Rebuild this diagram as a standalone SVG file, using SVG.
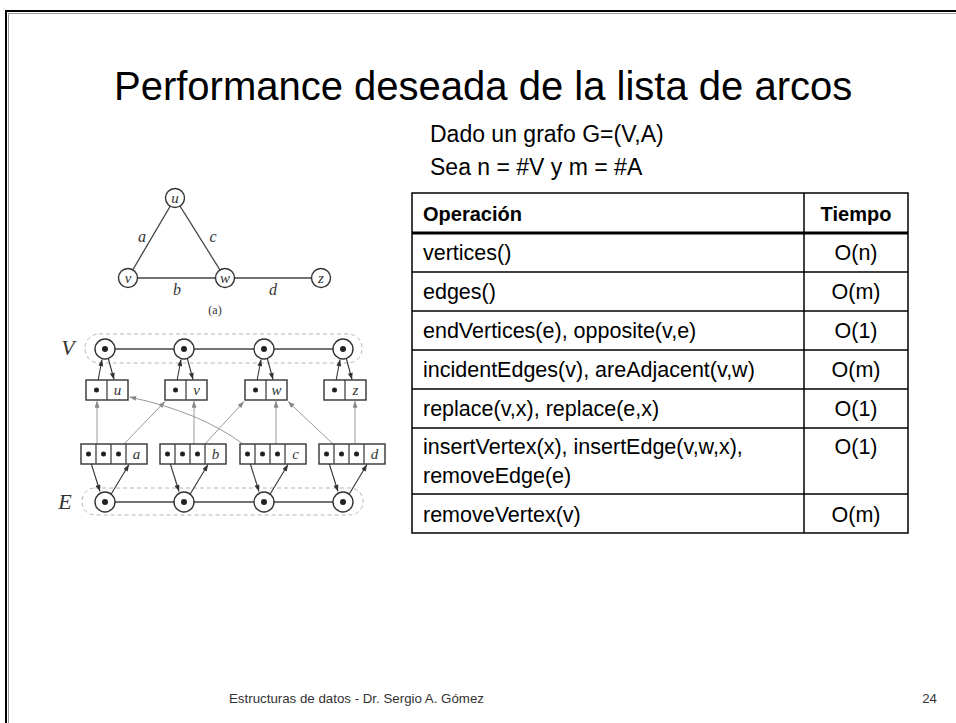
<svg xmlns="http://www.w3.org/2000/svg" width="956" height="723" viewBox="0 0 956 723">
<defs>
<style>
.sans{font-family:"Liberation Sans",Arial,sans-serif;fill:#000}
.it{font-family:"Liberation Serif","Times New Roman",serif;font-style:italic;fill:#333}
.rm{font-family:"Liberation Serif","Times New Roman",serif;fill:#333}
.tl{stroke:#000;stroke-width:1.5;fill:none}
.nd{fill:#fff;stroke:#333;stroke-width:1.4}
.dot{fill:#222}
.ln{stroke:#444;stroke-width:1.3;fill:none}
.ar{stroke:#333;stroke-width:1.1;fill:none;marker-end:url(#ah)}
.ag{stroke:#9a9a9a;stroke-width:1;fill:none;marker-end:url(#ahg)}
.dash{fill:none;stroke:#b5b5b5;stroke-width:1;stroke-dasharray:4 3}
</style>
<marker id="ah" viewBox="0 0 8 6" refX="8" refY="3" markerWidth="7" markerHeight="5" markerUnits="userSpaceOnUse" orient="auto"><path d="M0,0 L8,3 L0,6 z" fill="#333"/></marker>
<marker id="ahg" viewBox="0 0 8 6" refX="8" refY="3" markerWidth="7" markerHeight="5" markerUnits="userSpaceOnUse" orient="auto"><path d="M0,0 L8,3 L0,6 z" fill="#888"/></marker>
<clipPath id="figclip"><rect x="40" y="170" width="360" height="349"/></clipPath>
</defs>
<rect width="956" height="723" fill="#fff"/>
<path d="M6,723 V11 H956" fill="none" stroke="#000" stroke-width="2"/>
<path d="M8.5,723 V13.5 H956" fill="none" stroke="#999" stroke-width="1"/>

<text class="sans" x="114" y="100" font-size="40">Performance deseada de la lista de arcos</text>
<text class="sans" x="430" y="142" font-size="23">Dado un grafo G=(V,A)</text>
<text class="sans" x="430" y="175" font-size="23">Sea n = #V y m = #A</text>

<g id="table">
<rect class="tl" x="412" y="193" width="496" height="340"/>
<line class="tl" x1="804" y1="193" x2="804" y2="533"/>
<line x1="412" y1="233" x2="908" y2="233" stroke="#000" stroke-width="3"/>
<line class="tl" x1="412" y1="272" x2="908" y2="272"/>
<line class="tl" x1="412" y1="311" x2="908" y2="311"/>
<line class="tl" x1="412" y1="350" x2="908" y2="350"/>
<line class="tl" x1="412" y1="389" x2="908" y2="389"/>
<line class="tl" x1="412" y1="428" x2="908" y2="428"/>
<line class="tl" x1="412" y1="494" x2="908" y2="494"/>
<g class="sans" font-size="20" font-weight="bold">
<text x="423" y="221">Operación</text>
<text x="856" y="221" text-anchor="middle">Tiempo</text>
</g>
<g class="sans" font-size="21.5">
<text x="423" y="260">vertices()</text>
<text x="423" y="299">edges()</text>
<text x="423" y="338">endVertices(e), opposite(v,e)</text>
<text x="423" y="377">incidentEdges(v), areAdjacent(v,w)</text>
<text x="423" y="416">replace(v,x), replace(e,x)</text>
<text x="423" y="454">insertVertex(x), insertEdge(v,w,x),</text>
<text x="423" y="483">removeEdge(e)</text>
<text x="423" y="522">removeVertex(v)</text>
</g>
<g class="sans" font-size="21.5" text-anchor="middle">
<text x="856" y="260">O(n)</text>
<text x="856" y="299">O(m)</text>
<text x="856" y="338">O(1)</text>
<text x="856" y="377">O(m)</text>
<text x="856" y="416">O(1)</text>
<text x="856" y="454">O(1)</text>
<text x="856" y="522">O(m)</text>
</g>
</g>

<g id="graph-a">
<g id="a-edges">
<line class="ln" x1="175" y1="198" x2="128" y2="278"/>
<line class="ln" x1="175" y1="198" x2="225" y2="278"/>
<line class="ln" x1="128" y1="278" x2="225" y2="278"/>
<line class="ln" x1="225" y1="278" x2="321" y2="278"/>
</g>
<g id="node-u"><circle class="nd" cx="175" cy="198" r="9.5"/><text class="it" x="175" y="202.5" font-size="15" text-anchor="middle">u</text></g>
<g id="node-v"><circle class="nd" cx="128" cy="278" r="9.5"/><text class="it" x="128" y="282.5" font-size="15" text-anchor="middle">v</text></g>
<g id="node-w"><circle class="nd" cx="225" cy="278" r="9.5"/><text class="it" x="225" y="282.5" font-size="15" text-anchor="middle">w</text></g>
<g id="node-z"><circle class="nd" cx="321" cy="278" r="9.5"/><text class="it" x="321" y="282.5" font-size="15" text-anchor="middle">z</text></g>
<g class="it" font-size="16" text-anchor="middle">
<text x="142" y="242">a</text>
<text x="213" y="242">c</text>
<text x="177" y="295">b</text>
<text x="273" y="295">d</text>
</g>
<text class="rm" x="215" y="314" font-size="12" text-anchor="middle">(a)</text>
</g>

<g id="figure-b" clip-path="url(#figclip)">
<rect class="dash" x="85" y="334" width="277" height="29" rx="14"/>
<rect class="dash" x="82" y="488" width="281" height="27" rx="13"/>
<text class="it" x="68" y="355" font-size="22" text-anchor="middle">V</text>
<text class="it" x="65" y="509" font-size="22" text-anchor="middle">E</text>
<line class="ln" x1="105" y1="349" x2="343" y2="349"/>
<line class="ln" x1="105" y1="502" x2="343" y2="502"/>

<g id="connectors">
<line class="ar" x1="96.5" y1="389" x2="102" y2="359.5"/>
<line class="ar" x1="106" y1="350" x2="114" y2="379.5"/>
<line class="ar" x1="175.5" y1="389" x2="181" y2="359.5"/>
<line class="ar" x1="185" y1="350" x2="193" y2="379.5"/>
<line class="ar" x1="255.5" y1="389" x2="261" y2="359.5"/>
<line class="ar" x1="265" y1="350" x2="273" y2="379.5"/>
<line class="ar" x1="334.5" y1="389" x2="340" y2="359.5"/>
<line class="ar" x1="344" y1="350" x2="352" y2="379.5"/>

<line class="ar" x1="88.5" y1="455" x2="100" y2="491.5"/>
<line class="ar" x1="107" y1="501" x2="129" y2="464.5"/>
<line class="ar" x1="167.5" y1="455" x2="179" y2="491.5"/>
<line class="ar" x1="186" y1="501" x2="208" y2="464.5"/>
<line class="ar" x1="247.5" y1="455" x2="259" y2="491.5"/>
<line class="ar" x1="266" y1="501" x2="288" y2="464.5"/>
<line class="ar" x1="326.5" y1="455" x2="338" y2="491.5"/>
<line class="ar" x1="345" y1="501" x2="367" y2="464.5"/>

<line class="ag" x1="97" y1="444" x2="97" y2="401"/>
<line class="ag" x1="124" y1="444" x2="165" y2="401.5"/>
<line class="ag" x1="194" y1="444" x2="194" y2="401"/>
<line class="ag" x1="205" y1="444" x2="244" y2="401.5"/>
<path class="ag" d="M243,444 Q200,412 129.5,397"/>
<line class="ag" x1="276" y1="444" x2="276" y2="401"/>
<line class="ag" x1="333" y1="444" x2="288" y2="401.5"/>
<line class="ag" x1="355" y1="444" x2="355" y2="401"/>
</g>

<g id="vnode-1"><circle class="nd" cx="105" cy="349" r="10"/><circle class="dot" cx="105" cy="349" r="3"/></g>
<g id="vnode-2"><circle class="nd" cx="184" cy="349" r="10"/><circle class="dot" cx="184" cy="349" r="3"/></g>
<g id="vnode-3"><circle class="nd" cx="264" cy="349" r="10"/><circle class="dot" cx="264" cy="349" r="3"/></g>
<g id="vnode-4"><circle class="nd" cx="343" cy="349" r="10"/><circle class="dot" cx="343" cy="349" r="3"/></g>

<g id="enode-1"><circle class="nd" cx="105" cy="502" r="10"/><circle class="dot" cx="105" cy="502" r="3"/></g>
<g id="enode-2"><circle class="nd" cx="184" cy="502" r="10"/><circle class="dot" cx="184" cy="502" r="3"/></g>
<g id="enode-3"><circle class="nd" cx="264" cy="502" r="10"/><circle class="dot" cx="264" cy="502" r="3"/></g>
<g id="enode-4"><circle class="nd" cx="343" cy="502" r="10"/><circle class="dot" cx="343" cy="502" r="3"/></g>

<g id="vbox-u"><rect class="nd" x="86" y="380" width="42" height="20"/><line class="ln" x1="107" y1="380" x2="107" y2="400"/><circle class="dot" cx="96.5" cy="390" r="2.5"/><text class="it" x="117.5" y="395" font-size="15" text-anchor="middle">u</text></g>
<g id="vbox-v"><rect class="nd" x="165" y="380" width="42" height="20"/><line class="ln" x1="186" y1="380" x2="186" y2="400"/><circle class="dot" cx="175.5" cy="390" r="2.5"/><text class="it" x="196.5" y="395" font-size="15" text-anchor="middle">v</text></g>
<g id="vbox-w"><rect class="nd" x="245" y="380" width="42" height="20"/><line class="ln" x1="266" y1="380" x2="266" y2="400"/><circle class="dot" cx="255.5" cy="390" r="2.5"/><text class="it" x="276.5" y="395" font-size="15" text-anchor="middle">w</text></g>
<g id="vbox-z"><rect class="nd" x="324" y="380" width="42" height="20"/><line class="ln" x1="345" y1="380" x2="345" y2="400"/><circle class="dot" cx="334.5" cy="390" r="2.5"/><text class="it" x="355.5" y="395" font-size="15" text-anchor="middle">z</text></g>

<g id="ebox-a"><rect class="nd" x="81" y="444" width="66" height="20"/><path class="ln" d="M96,444V464M111,444V464M126,444V464"/><circle class="dot" cx="88.5" cy="454" r="2.5"/><circle class="dot" cx="103.5" cy="454" r="2.5"/><circle class="dot" cx="118.5" cy="454" r="2.5"/><text class="it" x="136.5" y="459" font-size="15" text-anchor="middle">a</text></g>
<g id="ebox-b"><rect class="nd" x="160" y="444" width="66" height="20"/><path class="ln" d="M175,444V464M190,444V464M205,444V464"/><circle class="dot" cx="167.5" cy="454" r="2.5"/><circle class="dot" cx="182.5" cy="454" r="2.5"/><circle class="dot" cx="197.5" cy="454" r="2.5"/><text class="it" x="215.5" y="459" font-size="15" text-anchor="middle">b</text></g>
<g id="ebox-c"><rect class="nd" x="240" y="444" width="66" height="20"/><path class="ln" d="M255,444V464M270,444V464M285,444V464"/><circle class="dot" cx="247.5" cy="454" r="2.5"/><circle class="dot" cx="262.5" cy="454" r="2.5"/><circle class="dot" cx="277.5" cy="454" r="2.5"/><text class="it" x="295.5" y="459" font-size="15" text-anchor="middle">c</text></g>
<g id="ebox-d"><rect class="nd" x="319" y="444" width="66" height="20"/><path class="ln" d="M334,444V464M349,444V464M364,444V464"/><circle class="dot" cx="326.5" cy="454" r="2.5"/><circle class="dot" cx="341.5" cy="454" r="2.5"/><circle class="dot" cx="356.5" cy="454" r="2.5"/><text class="it" x="374.5" y="459" font-size="15" text-anchor="middle">d</text></g>
<text class="rm" x="215" y="526" font-size="11" text-anchor="middle">(b)</text>
</g>

<g id="footer">
<text x="229" y="703" font-family="Liberation Sans, Arial, sans-serif" font-size="13.3" fill="#333">Estructuras de datos - Dr. Sergio A. Gómez</text>
<text x="937" y="703" font-family="Liberation Sans, Arial, sans-serif" font-size="13.3" fill="#333" text-anchor="end">24</text>
</g>
</svg>
